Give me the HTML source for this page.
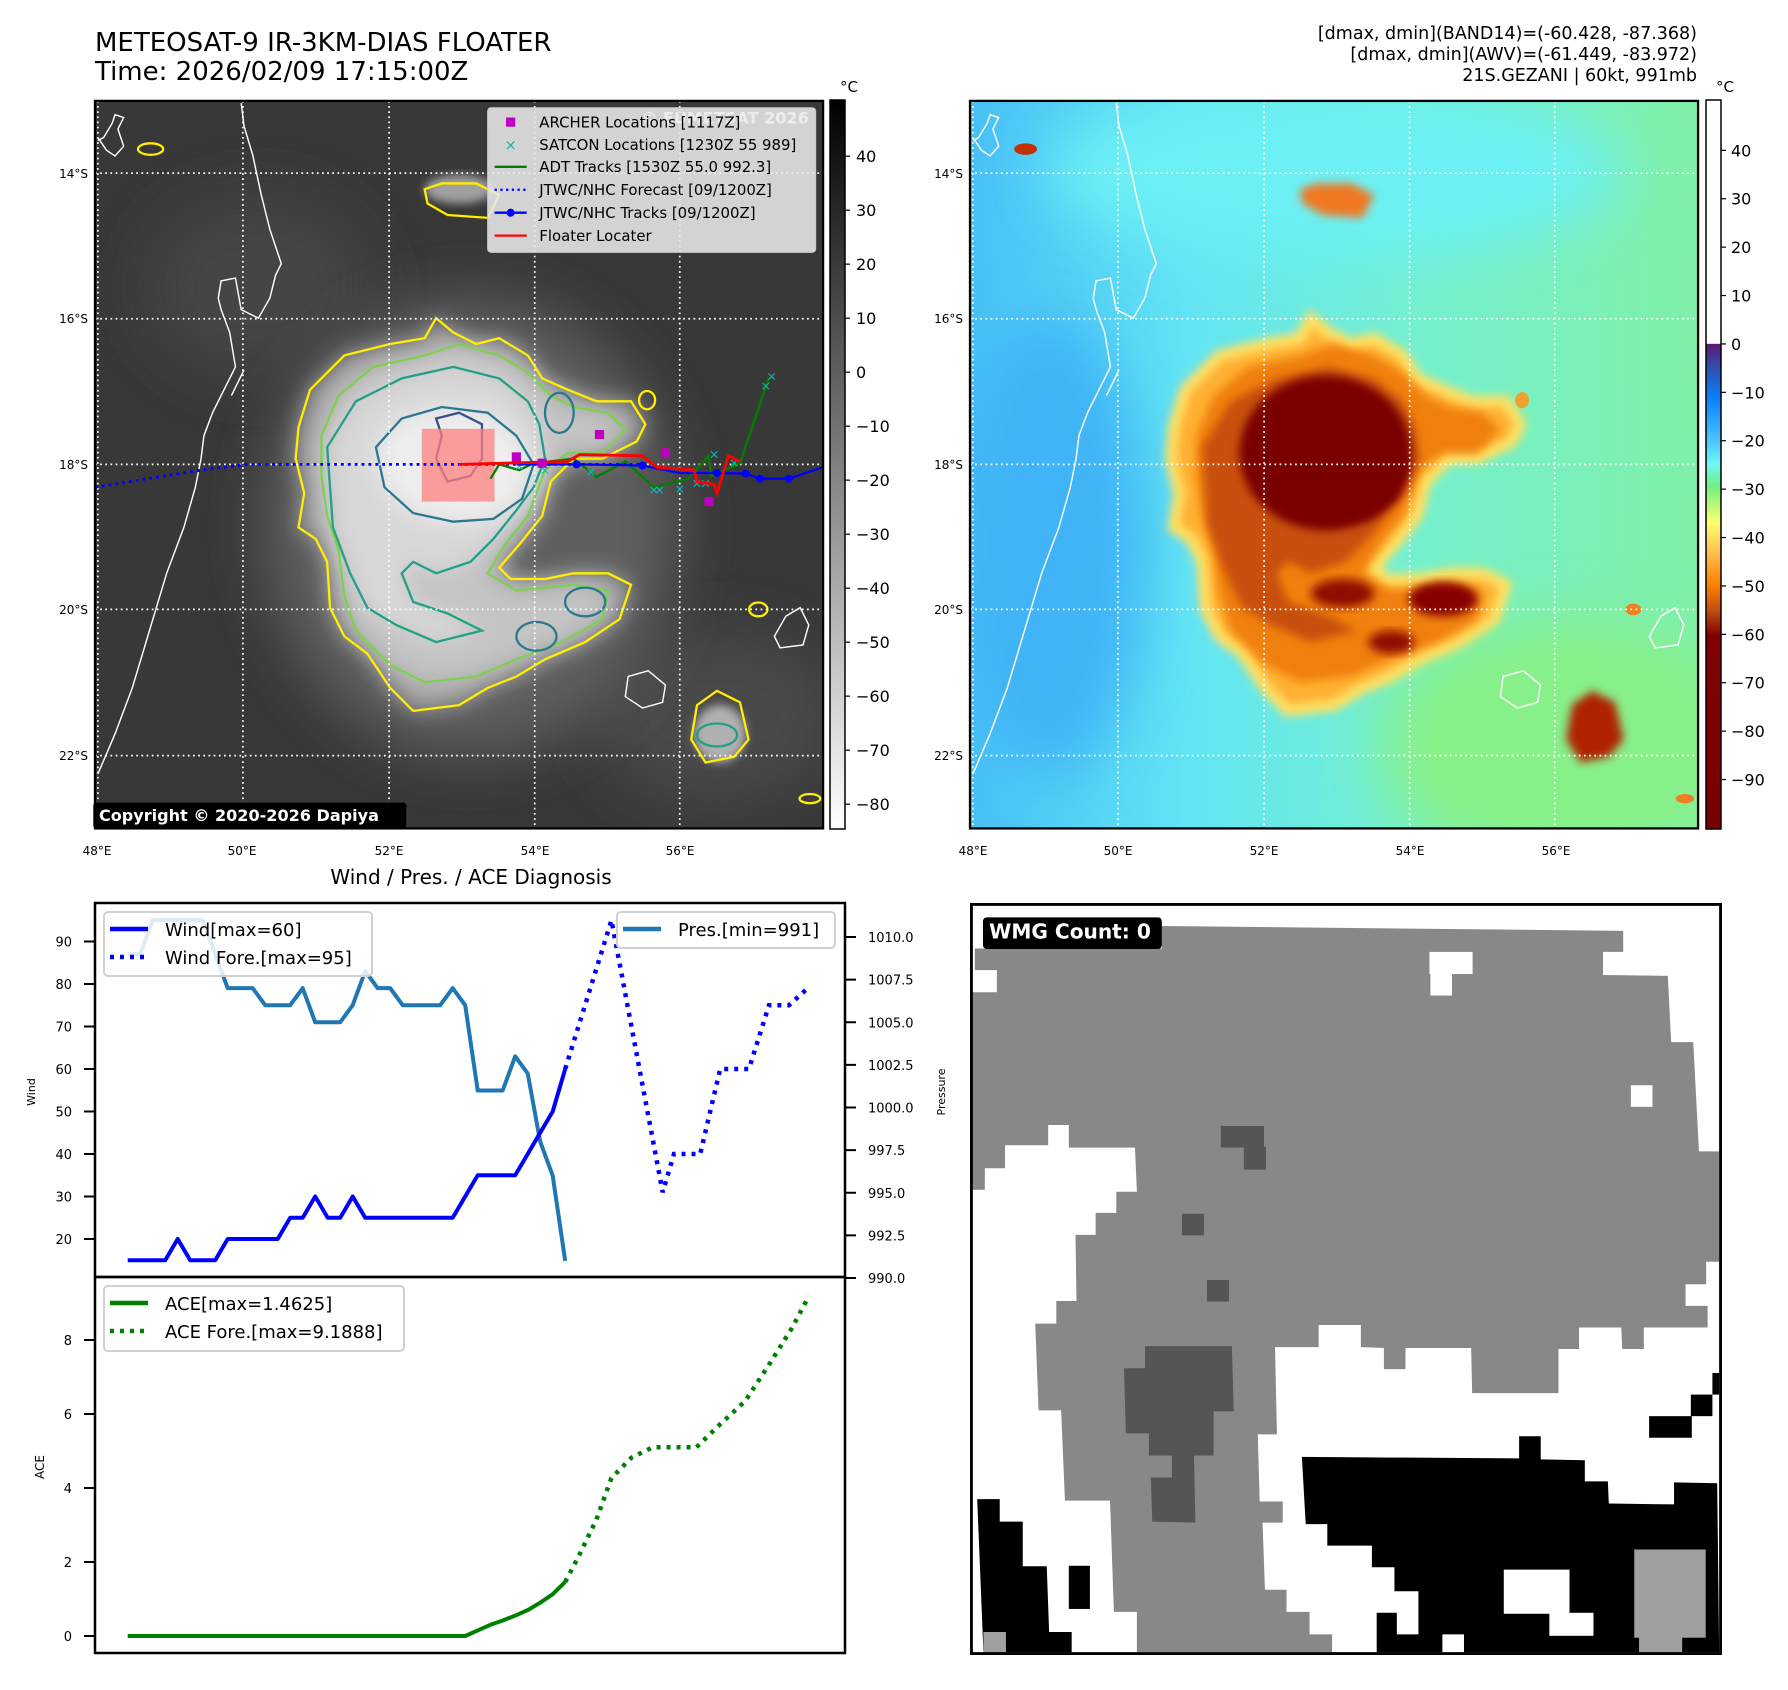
<!DOCTYPE html>
<html><head><meta charset="utf-8"><style>
html,body{margin:0;padding:0;background:#fff;}
svg{display:block;font-family:"DejaVu Sans","Liberation Sans",sans-serif;}
</style></head><body>
<svg id="fig" width="1788" height="1690" viewBox="0 0 1788 1690" xmlns="http://www.w3.org/2000/svg">
<defs>
<filter id="b8" x="-20%" y="-20%" width="140%" height="140%"><feGaussianBlur stdDeviation="8"/></filter>
<filter id="b20" x="-30%" y="-30%" width="160%" height="160%"><feGaussianBlur stdDeviation="20"/></filter>
<filter id="b50" x="-50%" y="-50%" width="200%" height="200%"><feGaussianBlur stdDeviation="50"/></filter>
<clipPath id="mapclip"><rect x="165" y="176" width="1270" height="1269"/></clipPath>
<linearGradient id="greys" x1="0" y1="0" x2="0" y2="1"><stop offset="0" stop-color="#000"/><stop offset="1" stop-color="#fff"/></linearGradient>
<linearGradient id="jetc" x1="0" y1="0" x2="0" y2="1">
<stop offset="0" stop-color="#fff"/><stop offset="0.334" stop-color="#fff"/>
<stop offset="0.335" stop-color="#5a1a70"/><stop offset="0.368" stop-color="#3050b0"/>
<stop offset="0.41" stop-color="#0a80ff"/><stop offset="0.47" stop-color="#50c8ff"/>
<stop offset="0.50" stop-color="#70f8f0"/><stop offset="0.53" stop-color="#70f080"/>
<stop offset="0.58" stop-color="#ffff70"/><stop offset="0.62" stop-color="#ffc050"/>
<stop offset="0.665" stop-color="#ff8000"/><stop offset="0.70" stop-color="#c05010"/>
<stop offset="0.735" stop-color="#800000"/><stop offset="1" stop-color="#780000"/>
</linearGradient>
<linearGradient id="seabg" x1="0" y1="0" x2="1" y2="0"><stop offset="0" stop-color="#48c0f6"/><stop offset="0.3" stop-color="#62e4f4"/><stop offset="0.6" stop-color="#74f0d0"/><stop offset="1" stop-color="#80f0a8"/></linearGradient>
<path id="coast" d="M170,1350 L200,1280 L230,1200 L260,1100 L290,1000 L320,920 L340,850 L350,800 L355,760 L370,720 L390,680 L410,640 L405,610 L400,580 L385,540 L380,520 L385,490 L410,485 L420,540 L450,555 L470,520 L480,480 L490,460 L470,400 L455,340 L440,270 L425,220 L420,180 M170,240 L185,262 L200,272 L215,255 L205,225 L215,205 L200,200 L195,215 L180,240 L170,245 M403,690 L425,645 M1370,1075 L1395,1060 L1410,1090 L1400,1125 L1360,1130 L1350,1110 Z M1095,1180 L1130,1170 L1160,1195 L1155,1225 L1120,1235 L1090,1215 Z" fill="none"/>
<polygon id="cY" points="520,745 540,680 600,620 680,600 740,590 760,555 790,580 830,600 870,590 920,620 945,660 990,680 1040,700 1100,700 1125,740 1110,770 1050,800 1000,800 960,840 945,900 905,950 870,990 890,1010 950,1010 1000,1000 1060,1000 1100,1020 1080,1080 1020,1120 950,1150 900,1180 850,1200 800,1230 720,1240 680,1200 640,1140 600,1110 575,1060 570,980 550,940 520,920 530,860 515,800"/>
<polygon id="cG" points="560,760 590,690 650,640 740,620 800,600 870,620 920,650 960,690 1000,710 1060,720 1090,750 1050,790 990,790 950,820 920,900 880,950 850,1000 900,1030 1000,1020 1060,1030 1050,1080 980,1120 900,1150 830,1180 740,1190 680,1160 620,1100 600,1040 590,960 570,900 560,830"/>
<polygon id="cT" points="570,780 620,700 700,660 790,640 870,660 920,700 940,740 950,800 930,850 900,890 860,940 820,980 760,1000 720,980 700,1000 720,1050 780,1070 840,1100 760,1120 690,1090 640,1060 610,1000 580,920 575,850"/>
<polygon id="cN" points="655,780 700,730 770,710 850,720 900,760 930,810 910,870 860,905 790,910 720,895 670,850"/>
</defs>
<rect width="1788" height="1690" fill="#fff"/>

<text x="95" y="51" font-size="26" fill="#000">METEOSAT-9 IR-3KM-DIAS FLOATER</text>
<text x="95" y="80" font-size="26" fill="#000">Time: 2026/02/09 17:15:00Z</text>
<g font-size="17.5" text-anchor="end" fill="#000">
<text x="1697" y="39">[dmax, dmin](BAND14)=(-60.428, -87.368)</text>
<text x="1697" y="60">[dmax, dmin](AWV)=(-61.449, -83.972)</text>
<text x="1697" y="81">21S.GEZANI | 60kt, 991mb</text>
</g>

<!-- LEFT MAP -->
<g transform="translate(0.4,0) scale(0.5733)">
<g clip-path="url(#mapclip)">
<rect x="165" y="176" width="1270" height="1269" fill="#383838"/>
<ellipse cx="450" cy="500" rx="200" ry="160" fill="#444" filter="url(#b50)"/>
<ellipse cx="1250" cy="1250" rx="220" ry="150" fill="#4a4a4a" filter="url(#b50)"/>
<ellipse cx="820" cy="920" rx="360" ry="400" fill="#5e5e5e" filter="url(#b50)"/>
<use href="#cY" fill="#a8a8a8" filter="url(#b20)"/>
<use href="#cG" fill="#c4c4c4" filter="url(#b20)"/>
<use href="#cT" fill="#d8d8d8" filter="url(#b20)"/>
<use href="#cN" fill="#eeeeee" filter="url(#b20)"/>
<ellipse cx="800" cy="330" rx="60" ry="25" fill="#a0a0a0" filter="url(#b8)"/>
<ellipse cx="1255" cy="1280" rx="45" ry="50" fill="#b0b0b0" filter="url(#b8)"/>
<g fill="none" stroke-width="4">
<use href="#cY" stroke="#ffee00"/>
<use href="#cG" stroke="#80d050"/>
<use href="#cT" stroke="#22a085"/>
<use href="#cN" stroke="#2a7890"/>
<polygon points="760,730 800,720 840,740 840,800 820,830 780,840 760,800 770,760" stroke="#3b4f8a"/>
<ellipse cx="975" cy="720" rx="25" ry="35" stroke="#2a7890"/>
<ellipse cx="1020" cy="1050" rx="35" ry="25" stroke="#2a7890"/>
<ellipse cx="935" cy="1110" rx="35" ry="25" stroke="#2a7890"/>
<path d="M740,330 L770,320 L830,320 L870,340 L850,380 L780,375 L745,355 Z" stroke="#ffee00"/>
<ellipse cx="262" cy="260" rx="22" ry="10" stroke="#ffee00"/>
<ellipse cx="1322" cy="1063" rx="16" ry="12" stroke="#ffee00"/>
<ellipse cx="1128" cy="698" rx="14" ry="16" stroke="#ffee00"/>
<ellipse cx="1412" cy="1393" rx="18" ry="8" stroke="#ffee00"/>
<path d="M1215,1230 L1250,1205 L1290,1225 L1305,1290 L1280,1320 L1230,1330 L1205,1290 Z" stroke="#ffee00"/>
<ellipse cx="1250" cy="1282" rx="35" ry="20" stroke="#22a085"/>
</g>
<use href="#coast" stroke="#fff" stroke-width="2.5"/>
<g stroke="#fff" stroke-width="3" stroke-dasharray="3 6">
<line x1="170" y1="176" x2="170" y2="1445"/><line x1="423" y1="176" x2="423" y2="1445"/><line x1="678" y1="176" x2="678" y2="1445"/><line x1="932" y1="176" x2="932" y2="1445"/><line x1="1185" y1="176" x2="1185" y2="1445"/>
<line x1="165" y1="302" x2="1435" y2="302"/><line x1="165" y1="556" x2="1435" y2="556"/><line x1="165" y1="810" x2="1435" y2="810"/><line x1="165" y1="1063" x2="1435" y2="1063"/><line x1="165" y1="1318" x2="1435" y2="1318"/>
</g>
<rect x="735" y="748" width="127" height="127" fill="#ff8080" opacity="0.75"/>
<polyline points="165,850 350,820 430,810 1120,810" fill="none" stroke="#0000ff" stroke-width="5" stroke-dasharray="5 7"/>
<polyline points="855,835 870,810 905,820 930,808 1000,800 1040,832 1090,805 1140,850 1200,835 1235,795 1240,830 1290,808 1340,660" fill="none" stroke="#008000" stroke-width="4"/>
<g fill="#00c0c0" font-size="22" text-anchor="middle">
<text x="905" y="820">×</text><text x="950" y="828">×</text><text x="1030" y="830">×</text><text x="1150" y="862">×</text><text x="1185" y="860">×</text><text x="1215" y="850">×</text><text x="1245" y="800">×</text><text x="1280" y="815">×</text><text x="1335" y="680">×</text><text x="1345" y="664">×</text><text x="1140" y="862">×</text><text x="1230" y="850">×</text>
</g>
<polyline points="900,810 1005,810 1120,812 1185,825 1250,825 1300,826 1325,835 1375,835 1435,815" fill="none" stroke="#0000ff" stroke-width="4"/>
<g fill="#0000ff"><circle cx="1005" cy="810" r="7"/><circle cx="1120" cy="812" r="7"/><circle cx="1250" cy="825" r="7"/><circle cx="1300" cy="826" r="7"/><circle cx="1325" cy="835" r="7"/><circle cx="1375" cy="835" r="7"/></g>
<polyline points="800,810 990,805 1010,793 1120,795 1145,815 1210,820 1215,840 1245,845 1250,860 1270,795 1290,805" fill="none" stroke="#ff0000" stroke-width="5"/>
<g fill="#c000c0"><rect x="892" y="789" width="16" height="16"/><rect x="937" y="800" width="16" height="16"/><rect x="1037" y="750" width="16" height="16"/><rect x="1152" y="782" width="16" height="16"/><rect x="1228" y="867" width="16" height="16"/></g>
<g>
<rect x="850" y="188" width="572" height="252" rx="6" fill="#e8e8e8" fill-opacity="0.88" stroke="#ccc" stroke-width="2"/>
<text x="1410" y="215" font-size="28" font-weight="bold" fill="#fff" fill-opacity="0.6" text-anchor="end">© EUMETSAT 2026</text>
<rect x="882" y="205" width="16" height="16" fill="#c000c0"/>
<text x="890" y="262" font-size="26" fill="#00c0c0" text-anchor="middle">×</text>
<line x1="862" y1="291" x2="918" y2="291" stroke="#008000" stroke-width="4"/>
<line x1="862" y1="331" x2="918" y2="331" stroke="#0000ff" stroke-width="4" stroke-dasharray="4 6"/>
<line x1="862" y1="371" x2="918" y2="371" stroke="#0000ff" stroke-width="4"/><circle cx="890" cy="371" r="7" fill="#0000ff"/>
<line x1="862" y1="411" x2="918" y2="411" stroke="#ff0000" stroke-width="4"/>
<g font-size="26" fill="#000">
<text x="940" y="222">ARCHER Locations [1117Z]</text>
<text x="940" y="262">SATCON Locations [1230Z 55 989]</text>
<text x="940" y="300">ADT Tracks [1530Z 55.0 992.3]</text>
<text x="940" y="340">JTWC/NHC Forecast [09/1200Z]</text>
<text x="940" y="380">JTWC/NHC Tracks [09/1200Z]</text>
<text x="940" y="420">Floater Locater</text>
</g></g>
</g>
<rect x="162" y="1400" width="546" height="45" rx="5" fill="#000"/>
<text x="172" y="1432" font-size="28" font-weight="bold" fill="#fff">Copyright © 2020-2026 Dapiya</text>
<rect x="165" y="176" width="1270" height="1269" fill="none" stroke="#000" stroke-width="4"/>
</g>

<!-- left map labels -->
<g font-size="12" fill="#000" text-anchor="end">
<text x="88" y="178">14°S</text><text x="88" y="323">16°S</text><text x="88" y="469">18°S</text><text x="88" y="614">20°S</text><text x="88" y="760">22°S</text>
</g>
<g font-size="12" fill="#000" text-anchor="middle">
<text x="97" y="855">48°E</text><text x="242" y="855">50°E</text><text x="389" y="855">52°E</text><text x="535" y="855">54°E</text><text x="680" y="855">56°E</text>
</g>
<g>
<rect x="830" y="100" width="15" height="729" fill="url(#greys)" stroke="#000" stroke-width="1.5"/>
<text x="840" y="92" font-size="15">°C</text>
<g id="cbL" font-size="16"></g>
</g>

<!-- RIGHT MAP -->
<g transform="translate(875.4,0) scale(0.5733)">
<g clip-path="url(#mapclip)">
<rect x="165" y="176" width="1270" height="1269" fill="url(#seabg)"/>
<ellipse cx="800" cy="300" rx="500" ry="150" fill="#6cf0f4" filter="url(#b50)"/>
<ellipse cx="300" cy="950" rx="170" ry="400" fill="#40b4f6" filter="url(#b50)"/>
<ellipse cx="1200" cy="1300" rx="320" ry="220" fill="#88f088" filter="url(#b50)"/>
<use href="#cY" fill="#ffb030" stroke="#ffe060" stroke-width="20" filter="url(#b8)"/>
<use href="#cG" fill="#f08010" filter="url(#b8)"/>
<use href="#cT" fill="#c85008" filter="url(#b8)"/>
<use href="#cN" fill="#820000" filter="url(#b8)"/>
<ellipse cx="785" cy="790" rx="150" ry="135" fill="#7a0000" filter="url(#b8)"/>
<ellipse cx="990" cy="1045" rx="60" ry="30" fill="#880000" filter="url(#b8)"/>
<ellipse cx="815" cy="1035" rx="55" ry="25" fill="#900800" filter="url(#b8)"/>
<ellipse cx="900" cy="1120" rx="40" ry="20" fill="#900800" filter="url(#b8)"/>
<path d="M740,330 L770,320 L830,320 L870,340 L850,380 L780,375 L745,355 Z" fill="#f07820" filter="url(#b8)"/>
<ellipse cx="262" cy="260" rx="20" ry="10" fill="#c03000"/>
<path d="M1215,1230 L1250,1205 L1290,1225 L1305,1290 L1280,1320 L1230,1330 L1205,1290 Z" fill="#b02000" filter="url(#b8)"/>
<ellipse cx="1322" cy="1063" rx="14" ry="10" fill="#f08020"/>
<ellipse cx="1128" cy="698" rx="12" ry="14" fill="#f0a030"/>
<ellipse cx="1412" cy="1393" rx="16" ry="8" fill="#f08020"/>
<use href="#coast" stroke="#fff" stroke-width="2.5"/>
<g stroke="#fff" stroke-width="3" stroke-dasharray="3 6">
<line x1="170" y1="176" x2="170" y2="1445"/><line x1="423" y1="176" x2="423" y2="1445"/><line x1="678" y1="176" x2="678" y2="1445"/><line x1="932" y1="176" x2="932" y2="1445"/><line x1="1185" y1="176" x2="1185" y2="1445"/>
<line x1="165" y1="302" x2="1435" y2="302"/><line x1="165" y1="556" x2="1435" y2="556"/><line x1="165" y1="810" x2="1435" y2="810"/><line x1="165" y1="1063" x2="1435" y2="1063"/><line x1="165" y1="1318" x2="1435" y2="1318"/>
</g>
</g>
<rect x="165" y="176" width="1270" height="1269" fill="none" stroke="#000" stroke-width="4"/>
</g>
<g font-size="12" fill="#000" text-anchor="end">
<text x="963" y="178">14°S</text><text x="963" y="323">16°S</text><text x="963" y="469">18°S</text><text x="963" y="614">20°S</text><text x="963" y="760">22°S</text>
</g>
<g font-size="12" fill="#000" text-anchor="middle">
<text x="973" y="855">48°E</text><text x="1118" y="855">50°E</text><text x="1264" y="855">52°E</text><text x="1410" y="855">54°E</text><text x="1556" y="855">56°E</text>
</g>
<g>
<rect x="1706" y="100" width="15" height="729" fill="url(#jetc)" stroke="#000" stroke-width="1.5"/>
<text x="1716" y="92" font-size="15">°C</text>
<g id="cbR" font-size="16"></g>
</g>

<!-- CHART -->
<text x="471" y="884" font-size="20" text-anchor="middle">Wind / Pres. / ACE Diagnosis</text>
<g id="chart"></g>

<!-- WMG -->
<svg x="970" y="903" width="752" height="752" viewBox="0 0 1568 1568">
<rect x="0" y="0" width="1568" height="1568" fill="#fff"/>
<polygon fill="#888" points="10,95 400,95 400,48 1362,58 1362,102 1320,102 1320,150 1455,152 1462,290 1508,290 1520,518 1562,518 1562,748 1535,748 1535,795 1492,795 1492,840 1538,840 1538,885 1405,885 1405,930 1360,930 1358,885 1270,885 1270,930 1227,930 1227,1022 1047,1022 1045,928 908,928 908,972 863,972 863,928 815,926 815,880 727,880 727,926 636,926 640,1108 600,1108 604,1248 652,1248 652,1292 610,1292 615,1432 660,1432 660,1478 708,1478 708,1525 755,1525 755,1562 348,1562 348,1478 300,1478 292,1246 198,1246 190,1058 143,1058 136,877 180,877 180,830 222,830 220,692 262,692 262,646 305,646 305,602 348,602 344,510 206,510 206,463 163,463 163,505 73,505 73,553 31,553 31,598 5,598 5,186 56,186 56,140 10,140"/>
<g fill="#fff"><rect x="958" y="102" width="90" height="46"/><rect x="960" y="146" width="45" height="47"/><rect x="1378" y="380" width="45" height="45"/></g>
<g fill="#555"><rect x="523" y="465" width="90" height="45"/><rect x="571" y="508" width="46" height="48"/><rect x="442" y="648" width="46" height="45"/><rect x="494" y="786" width="46" height="45"/>
<polygon points="365,924 546,924 550,1060 508,1060 508,1152 467,1152 470,1292 380,1290 377,1198 421,1198 421,1152 373,1152 373,1106 325,1106 321,970 365,970"/></g>
<g fill="#000">
<polygon points="692,1155 1145,1158 1145,1112 1190,1112 1190,1160 1282,1162 1282,1206 1330,1206 1332,1252 1468,1254 1468,1208 1558,1210 1562,1562 848,1562 848,1480 890,1480 890,1525 935,1525 935,1435 885,1435 885,1385 838,1385 838,1340 745,1340 745,1295 700,1295"/>
<rect x="1416" y="1070" width="89" height="45"/><rect x="1503" y="1025" width="45" height="45"/><rect x="1548" y="980" width="14" height="45"/>
<polygon points="15,1243 62,1243 62,1290 110,1290 110,1383 160,1383 165,1520 212,1520 212,1562 28,1562"/>
<rect x="206" y="1382" width="44" height="90"/>
</g>
<g fill="#fff"><rect x="1113" y="1390" width="137" height="92"/><rect x="1208" y="1480" width="92" height="48"/><rect x="985" y="1525" width="45" height="40"/></g>
<g fill="#a0a0a0"><rect x="1385" y="1348" width="149" height="184"/><rect x="1395" y="1530" width="90" height="32"/><rect x="28" y="1520" width="47" height="42"/></g>
<rect x="3" y="3" width="1562" height="1562" fill="none" stroke="#000" stroke-width="6"/>
<rect x="27" y="30" width="373" height="66" rx="8" fill="#000"/>
<text x="40" y="74" font-size="42" font-weight="bold" fill="#fff">WMG Count: 0</text>
</svg>
</svg>

<script>
// ---- chart data ----
const windVals = [15,15,15,15,20,15,15,15,20,20,20,20,20,25,25,30,25,25,30,25,25,25,25,25,25,25,25,30,35,35,35,35,40,45,50,60];
const presVals = [1009,1009,1011,1011,1011,1011,1011,1009,1007,1007,1007,1006,1006,1006,1007,1005,1005,1005,1006,1008,1007,1007,1006,1006,1006,1006,1007,1006,1001,1001,1001,1003,1002,998,996,991];
const windFcIdx = [35,38.7,42.8,43.7,45.8,47.4,49.7,51.3,52.9,54.4];
const windFcVals = [60,95,31,40,40,60,60,75,75,79];
const aceVals = [0,0,0,0,0,0,0,0,0,0,0,0,0,0,0,0,0,0,0,0,0,0,0,0,0,0,0,0,0.15,0.3,0.42,0.55,0.7,0.9,1.13,1.46];
const aceFcIdx = [35,36.1,37.5,38.7,40.3,42,45.5,47.2,49.4,51.3,53.1,54.5];
const aceFcVals = [1.46,2.17,3.15,4.27,4.82,5.1,5.1,5.66,6.35,7.33,8.3,9.19];
const windTicks = [20,30,40,50,60,70,80,90];
const presTicks = ["990.0","992.5","995.0","997.5","1000.0","1002.5","1005.0","1007.5","1010.0"];
const aceTicks = [0,2,4,6,8];
const irTicks = [40,30,20,10,0,-10,-20,-30,-40,-50,-60,-70,-80];
const awvTicks = [40,30,20,10,0,-10,-20,-30,-40,-50,-60,-70,-80,-90];

const NS = "http://www.w3.org/2000/svg";
function xS(i){return 127.7 + 12.5*i;}
function yW(w){return 1239 - (w-20)*4.25;}
function yP(p){return 937 + (1010-p)*17.05;}
function yA(a){return 1636 - a*37;}
function mk(tag, attrs, parent){const e=document.createElementNS(NS,tag);for(const k in attrs)e.setAttribute(k,attrs[k]);parent.appendChild(e);return e;}
function txt(s, attrs, parent){const e=mk('text',attrs,parent);e.textContent=s;return e;}

const cbL=document.getElementById('cbL');
irTicks.forEach(v=>{const y=100+(50.4-v)*5.4;
 const l=mk('line',{x1:845,y1:y,x2:850,y2:y,stroke:'#000','stroke-width':1.2},cbL);
 
 
 const t=txt(String(v).replace('-','\u2212'),{x:856,y:y+6},cbL);
 
 });
const cbR=document.getElementById('cbR');
awvTicks.forEach(v=>{const y=100+(50.4-v)*4.84;
 const l=mk('line',{x1:1721,y1:y,x2:1726,y2:y,stroke:'#000','stroke-width':1.2},cbR);
 
 
 const t=txt(String(v).replace('-','\u2212'),{x:1731,y:y+6},cbR);
 
 });

const C=document.getElementById('chart');
const f1=mk('rect',{x:95,y:903,width:750,height:374,fill:'none',stroke:'#000','stroke-width':2.5},C);


const f2=mk('rect',{x:95,y:1277,width:750,height:376,fill:'none',stroke:'#000','stroke-width':2.5},C);



windTicks.forEach(v=>{const y=yW(v);
 mk('line',{x1:84,y1:y,x2:95,y2:y,stroke:'#000','stroke-width':2},C);
 const t=txt(String(v),{x:72,y:y+5,'font-size':13,'text-anchor':'end'},C);
 
 });
presTicks.forEach(s=>{const y=yP(parseFloat(s));
 mk('line',{x1:845,y1:y,x2:856,y2:y,stroke:'#000','stroke-width':2},C);
 const t=txt(s,{x:868,y:y+5,'font-size':13},C);
 
 });
aceTicks.forEach(v=>{const y=yA(v);
 mk('line',{x1:84,y1:y,x2:95,y2:y,stroke:'#000','stroke-width':2},C);
 const t=txt(String(v),{x:72,y:y+5,'font-size':13,'text-anchor':'end'},C);
 
 });
const wl=txt('Wind',{x:0,y:0,'font-size':11,'text-anchor':'middle',transform:'translate(35,1092) rotate(-90)'},C);


const pl=txt('Pressure',{x:0,y:0,'font-size':11,'text-anchor':'middle',transform:'translate(945,1092) rotate(-90)'},C);


const al=txt('ACE',{x:0,y:0,'font-size':12,'text-anchor':'middle',transform:'translate(44,1467) rotate(-90)'},C);



function pts(xs, ys, fy){return xs.map((x,i)=>xS(x)+','+fy(ys[i])).join(' ');}
const idx = windVals.map((_,i)=>i);
const pLine=mk('polyline',{points:pts(idx,presVals,yP),fill:'none',stroke:'#1f77b4','stroke-width':4,'stroke-linejoin':'round'},C);


const wLine=mk('polyline',{points:pts(idx,windVals,yW),fill:'none',stroke:'#0000ff','stroke-width':4,'stroke-linejoin':'round'},C);


const wf=mk('polyline',{points:pts(windFcIdx,windFcVals,yW),fill:'none',stroke:'#0000ff','stroke-width':4.5,'stroke-dasharray':'4 6'},C);


const aLine=mk('polyline',{points:pts(idx,aceVals,yA),fill:'none',stroke:'#008000','stroke-width':4,'stroke-linejoin':'round'},C);


const af=mk('polyline',{points:pts(aceFcIdx,aceFcVals,yA),fill:'none',stroke:'#008000','stroke-width':4.5,'stroke-dasharray':'4 6'},C);



function legend(x,y,w,h,entries,name){
 const g=mk('g',{},C);
 
 
 mk('rect',{x:x,y:y,width:w,height:h,rx:4,fill:'#fff','fill-opacity':0.85,stroke:'#d0d0d0','stroke-width':2},g);
 entries.forEach((e,i)=>{const ly=y+17+i*28;
  mk('line',{x1:x+6,y1:ly,x2:x+44,y2:ly,stroke:e.c,'stroke-width':4.5,'stroke-dasharray':e.d?'4 6':'none'},g);
  txt(e.t,{x:x+61,y:ly+7,'font-size':18},g);});
}
legend(104,912,268,64,[{c:'#0000ff',t:'Wind[max=60]'},{c:'#0000ff',t:'Wind Fore.[max=95]',d:1}],'wind-legend');
legend(617,912,218,36,[{c:'#1f77b4',t:'Pres.[min=991]'}],'pressure-legend');
legend(104,1286,300,65,[{c:'#008000',t:'ACE[max=1.4625]'},{c:'#008000',t:'ACE Fore.[max=9.1888]',d:1}],'ace-legend');
</script>
</body></html>
